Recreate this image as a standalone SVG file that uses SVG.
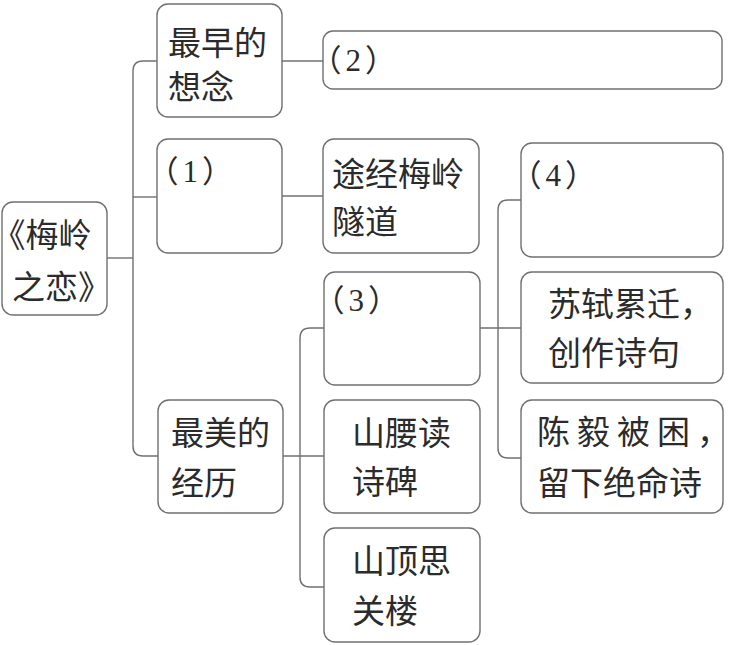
<svg xmlns="http://www.w3.org/2000/svg" width="729" height="645" viewBox="0 0 729 645">
<style>
.box{fill:#fff;stroke:#707070;stroke-width:1.4}
.ln{fill:none;stroke:#707070;stroke-width:1.4}
text{font-family:"Liberation Serif","Noto Sans CJK SC",serif;font-size:33px;fill:#2b2b2b;font-feature-settings:"halt" 1}
.num{font-size:31px;letter-spacing:4px}
</style>
<rect width="729" height="645" fill="#fff"/>
<g id="connectors">
<path class="ln" d="M107,258H133"/>
<path class="ln" d="M157,61H143Q133,61 133,71V446Q133,456 143,456H158"/>
<path class="ln" d="M133,197H157"/>
<path class="ln" d="M282,61H323"/>
<path class="ln" d="M282,196H323"/>
<path class="ln" d="M283,456H324"/>
<path class="ln" d="M324,328H310Q300,328 300,338V577Q300,587 310,587H324"/>
<path class="ln" d="M480,328H521"/>
<path class="ln" d="M521,200H508Q498,200 498,210V448Q498,458 508,458H521"/>
</g>
<g id="root"><rect class="box" x="2" y="202" width="105" height="113" rx="11"/><text x="9" y="247">《梅岭</text><text x="12" y="299">之恋》</text></g>
<g id="n-earliest"><rect class="box" x="157" y="4" width="125" height="113" rx="11"/><text x="168" y="55">最早的</text><text x="168" y="99">想念</text></g>
<g id="n-1"><rect class="box" x="157" y="139" width="125" height="114" rx="11"/><text class="num" x="163" y="182">（1）</text></g>
<g id="n-best"><rect class="box" x="158" y="400" width="125" height="113" rx="11"/><text x="171" y="445">最美的</text><text x="171" y="495">经历</text></g>
<g id="n-2"><rect class="box" x="323" y="31" width="399" height="58" rx="10"/><text class="num" x="326" y="71">（2）</text></g>
<g id="n-tunnel"><rect class="box" x="323" y="139" width="156" height="114" rx="11"/><text x="332" y="186">途经梅岭</text><text x="332" y="234">隧道</text></g>
<g id="n-3"><rect class="box" x="324" y="272" width="156" height="113" rx="11"/><text class="num" x="329" y="311">（3）</text></g>
<g id="n-waist"><rect class="box" x="324" y="400" width="156" height="113" rx="11"/><text x="352" y="445">山腰读</text><text x="352" y="494">诗碑</text></g>
<g id="n-top"><rect class="box" x="324" y="528" width="156" height="114" rx="11"/><text x="352" y="573">山顶思</text><text x="352" y="623">关楼</text></g>
<g id="n-4"><rect class="box" x="521" y="143" width="202" height="114" rx="11"/><text class="num" x="526" y="186">（4）</text></g>
<g id="n-sushi"><rect class="box" x="521" y="272" width="202" height="111" rx="11"/><text x="548" y="316">苏轼累迁，</text><text x="548" y="365">创作诗句</text></g>
<g id="n-chenyi"><rect class="box" x="521" y="400" width="202" height="113" rx="11"/><text x="537" y="444" letter-spacing="7">陈毅被困，</text><text x="537" y="495">留下绝命诗</text></g>
</svg>
